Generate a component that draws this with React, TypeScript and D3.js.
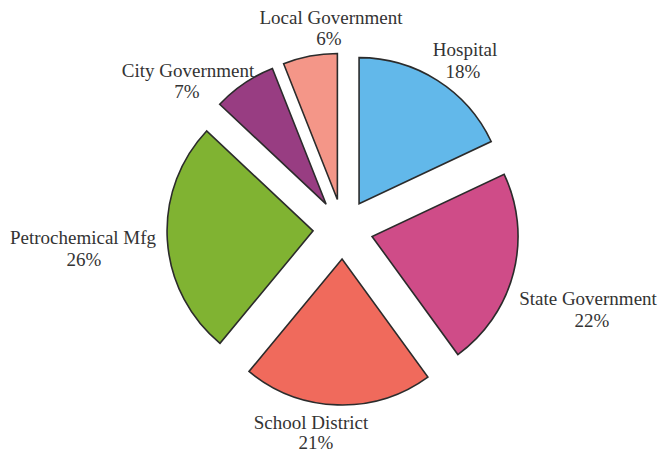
import React from "react";
import * as d3 from "d3";

const categories = ["Hospital", "State Government", "School District", "Petrochemical Mfg", "City Government", "Local Government"];
const shares = [18, 22, 21, 26, 7, 6];
const colors = ["#62b8ea", "#cf4c88", "#f06a5c", "#80b332", "#983d82", "#f49688"];

// label layout: [x, baseline of name line, x of percent, baseline of percent line]
const labelLayout: [number, number, number, number][] = [
  [465, 56, 463, 78],
  [588, 305, 592, 327],
  [311, 429, 316, 449],
  [83, 244, 84, 266],
  [188, 77, 187, 98],
  [331, 24, 329, 45],
];

const W = 661;
const H = 452;
const cx = 343;
const cy = 229;
const R = 146;
const explode = 30;

export default function App() {
  const pie = d3.pie<number>().sort(null).value((d) => d).startAngle(0).endAngle(2 * Math.PI);
  const arcs = pie(shares);
  const arc = d3.arc<d3.PieArcDatum<number>>().innerRadius(0).outerRadius(R);
  return (
    <svg width={W} height={H} style={{ position: "absolute", left: 0, top: 0, background: "#fff" }}>
      <g transform={`translate(${cx},${cy})`}>
        {arcs.map((a, i) => {
          const mid = (a.startAngle + a.endAngle) / 2;
          const dx = Math.sin(mid) * explode;
          const dy = -Math.cos(mid) * explode;
          return (
            <path
              key={i}
              d={arc(a) || ""}
              transform={`translate(${dx},${dy})`}
              fill={colors[i]}
              stroke="#2b2b2b"
              strokeWidth={1.6}
              strokeLinejoin="miter"
            />
          );
        })}
      </g>
      {categories.map((c, i) => {
        const [x1, y1, x2, y2] = labelLayout[i];
        return (
          <g key={c} fontFamily="'Liberation Serif', 'Times New Roman', serif" fontSize={19} fill="#333" textAnchor="middle">
            <text x={x1} y={y1}>{c}</text>
            <text x={x2} y={y2}>{shares[i]}%</text>
          </g>
        );
      })}
    </svg>
  );
}
